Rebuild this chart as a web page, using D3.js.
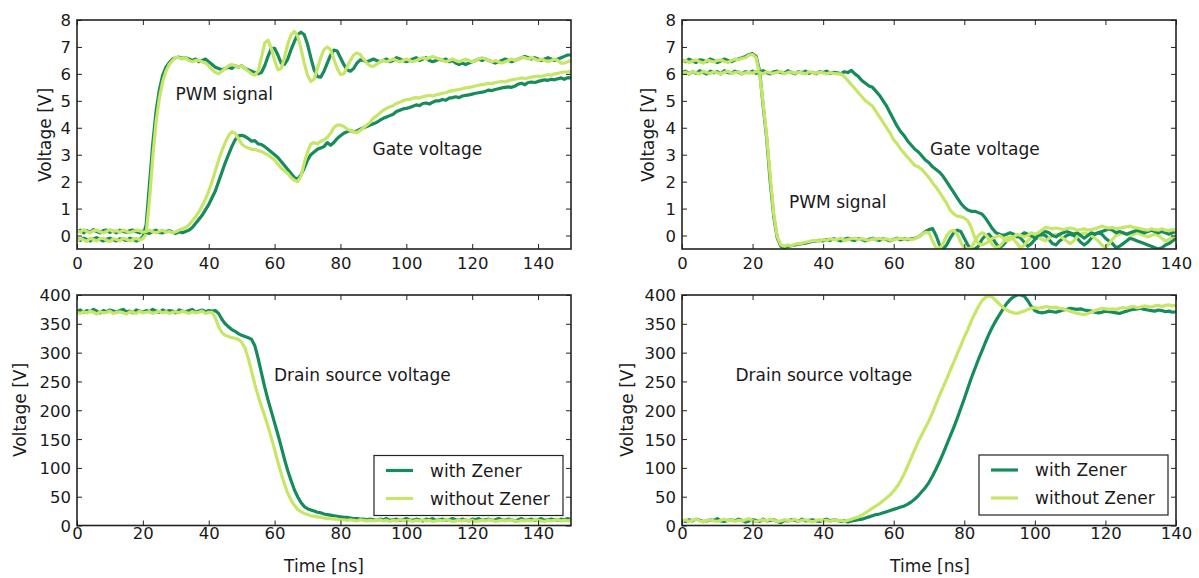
<!DOCTYPE html>
<html><head><meta charset="utf-8">
<script src="https://cdn.jsdelivr.net/npm/d3@7"></script>
<style>
body{margin:0;background:#fff;}
svg text{font-family:"DejaVu Sans",sans-serif;fill:#1a1a1a;}
</style>
</head><body>
<svg id="chart" width="1199" height="578"></svg>
<script>
// ---------------- DATA ----------------
const seriesNames = ["with Zener", "without Zener"];
const leftXTicks = [0, 20, 40, 60, 80, 100, 120, 140];
const rightXTicks = [0, 20, 40, 60, 80, 100, 120, 140];
const gateYTicks = [0, 1, 2, 3, 4, 5, 6, 7, 8];
const drainYTicks = [0, 50, 100, 150, 200, 250, 300, 350, 400];

// time grid (1 ns sampling)
const timeLeft = d3.range(0, 151);
const timeRight = d3.range(0, 141);

// Top-left: turn-on, PWM signal
const tlPwmWith = [-0.12,-0.18,-0.1,-0.15,-0.2,-0.12,-0.08,-0.15,-0.2,-0.14,-0.1,-0.16,-0.2,-0.12,-0.15,-0.18,-0.1,-0.14,-0.2,-0.15,-0.05,0.4,1.9,3.4,4.6,5.4,5.95,6.25,6.42,6.55,
6.6,6.62,6.58,6.6,6.55,6.5,6.55,6.45,6.5,6.55,
6.45,6.35,6.25,6.2,6.15,6.2,6.25,6.2,6.3,6.25,
6.3,6.2,6.15,6.1,6.05,6.0,6.05,6.3,6.65,6.95,
6.95,6.7,6.4,6.35,6.55,6.9,7.2,7.45,7.55,7.45,
7.1,6.6,6.15,5.9,5.88,6.1,6.4,6.7,6.88,6.85,
6.6,6.35,6.15,6.1,6.2,6.4,6.52,6.5,6.45,6.5,
6.55,6.5,6.45,6.5,6.55,6.45,6.5,6.6,6.55,6.5,
6.45,6.5,6.55,6.6,6.5,6.55,6.6,6.5,6.45,6.5,
6.55,6.5,6.55,6.45,6.5,6.4,6.35,6.4,6.35,6.4,
6.45,6.5,6.55,6.5,6.55,6.5,6.45,6.4,6.45,6.5,
6.55,6.5,6.45,6.5,6.55,6.6,6.65,6.6,6.55,6.6,
6.55,6.5,6.55,6.6,6.55,6.5,6.55,6.6,6.65,6.7,6.7];
const tlPwmWithout = [-0.2,-0.12,-0.16,-0.22,-0.1,-0.15,-0.2,-0.12,-0.1,-0.18,-0.22,-0.12,-0.15,-0.2,-0.1,-0.14,-0.2,-0.15,-0.1,-0.16,-0.12,0.05,1.3,2.9,4.2,5.1,5.7,6.1,6.35,6.5,
6.62,6.6,6.55,6.6,6.5,6.45,6.5,6.5,6.45,6.4,
6.3,6.15,6.05,6.0,6.1,6.2,6.3,6.35,6.3,6.25,
6.3,6.2,6.1,6.0,5.95,6.1,6.6,7.15,7.25,6.95,
6.5,6.15,6.2,6.6,7.1,7.45,7.58,7.4,6.95,6.4,
5.95,5.72,5.8,6.2,6.6,6.9,7.0,6.9,6.55,6.2,
5.98,6.0,6.25,6.5,6.7,6.78,6.72,6.55,6.4,6.3,
6.28,6.35,6.45,6.5,6.45,6.5,6.55,6.5,6.45,6.5,
6.55,6.5,6.45,6.5,6.55,6.6,6.55,6.6,6.65,6.6,
6.55,6.5,6.45,6.5,6.55,6.5,6.45,6.5,6.55,6.5,
6.45,6.5,6.55,6.6,6.55,6.5,6.45,6.5,6.45,6.4,
6.45,6.5,6.55,6.5,6.55,6.6,6.6,6.55,6.6,6.55,
6.5,6.55,6.5,6.45,6.5,6.55,6.5,6.4,6.4,6.45,6.5];
// Top-left: turn-on, gate voltage
const tlGateWith = [0.15,0.2,0.1,0.18,0.12,0.22,0.15,0.1,0.18,0.2,0.12,0.16,0.1,0.2,0.15,0.12,0.18,0.2,0.14,0.1,0.16,0.12,0.08,0.15,0.2,0.12,0.1,0.15,0.18,0.12,0.08,0.14,0.1,0.15,
0.2,0.3,0.45,0.6,0.75,0.95,
1.15,1.4,1.65,2.0,2.35,2.7,3.0,3.3,3.55,3.7,
3.72,3.68,3.6,3.5,3.52,3.4,3.38,3.3,3.2,3.1,
3.0,2.9,2.75,2.6,2.45,2.3,2.15,2.1,2.25,2.5,
2.8,3.0,3.1,3.2,3.25,3.3,3.45,3.35,3.45,3.6,
3.7,3.8,3.85,3.9,3.85,3.88,3.95,4.0,4.05,4.1,
4.15,4.2,4.28,4.35,4.4,4.45,4.5,4.6,4.65,4.7,
4.72,4.75,4.8,4.85,4.82,4.9,4.92,4.88,4.95,5.0,
5.0,5.05,5.02,5.1,5.12,5.15,5.12,5.18,5.2,5.22,
5.25,5.28,5.3,5.32,5.35,5.4,5.38,5.42,5.45,5.48,
5.5,5.52,5.5,5.55,5.62,5.65,5.6,5.68,5.7,5.68,
5.72,5.75,5.78,5.76,5.8,5.78,5.82,5.85,5.8,5.86,5.85];
const tlGateWithout = [0.2,0.12,0.22,0.15,0.1,0.18,0.2,0.14,0.1,0.16,0.22,0.15,0.18,0.12,0.2,0.16,0.1,0.15,0.2,0.18,0.12,0.15,0.2,0.14,0.1,0.16,0.2,0.12,0.15,0.1,0.14,0.2,
0.25,0.3,0.4,0.55,0.7,0.88,1.1,1.35,
1.65,2.0,2.4,2.8,3.15,3.45,3.7,3.85,3.8,3.6,
3.4,3.3,3.25,3.2,3.2,3.15,3.12,3.05,3.0,2.9,
2.8,2.65,2.5,2.4,2.3,2.15,2.05,2.0,2.2,2.7,
3.1,3.4,3.45,3.4,3.5,3.55,3.65,3.8,4.0,4.1,
4.1,4.05,3.95,3.9,3.85,3.82,3.9,4.0,4.1,4.2,
4.35,4.45,4.55,4.65,4.72,4.78,4.82,4.9,4.95,5.0,
5.05,5.05,5.1,5.12,5.1,5.15,5.18,5.2,5.18,5.22,
5.25,5.28,5.3,5.35,5.38,5.4,5.42,5.45,5.48,5.5,
5.52,5.55,5.58,5.6,5.62,5.65,5.63,5.68,5.7,5.72,
5.7,5.75,5.78,5.8,5.82,5.85,5.83,5.85,5.88,5.9,
5.92,5.9,5.94,5.97,5.95,6.0,6.02,6.05,6.07,6.08,6.1];

// Top-right: turn-off, PWM signal
const trPwmWith = [6.5,6.45,6.55,6.48,6.42,6.52,6.5,6.45,6.55,6.5,6.42,6.48,6.55,6.5,6.45,6.52,6.55,6.6,
6.65,6.72,6.75,6.65,6.1,4.8,3.6,2.0,0.7,-0.1,-0.4,-0.45,
-0.4,-0.38,-0.35,-0.32,-0.3,-0.28,-0.25,-0.22,-0.2,-0.18,
-0.2,-0.15,-0.18,-0.12,-0.16,-0.2,-0.14,-0.1,-0.16,-0.18,
-0.12,-0.15,-0.2,-0.14,-0.1,-0.15,-0.18,-0.12,-0.16,-0.2,
-0.14,-0.1,-0.16,-0.12,-0.15,-0.12,-0.1,-0.05,0.05,0.15,
0.22,0.26,0.0,-0.35,-0.5,-0.35,-0.1,0.1,0.2,0.15,
-0.1,-0.35,-0.5,-0.5,-0.4,-0.15,0.0,0.05,-0.1,-0.3,
-0.45,-0.35,-0.2,-0.1,-0.05,0.0,-0.1,-0.25,-0.4,-0.3,
-0.15,-0.05,0.05,0.0,-0.15,-0.3,-0.35,-0.2,-0.1,0.0,
0.05,0.0,-0.1,-0.25,-0.35,-0.25,-0.1,0.05,0.1,0.05,
-0.1,-0.2,-0.3,-0.45,-0.4,-0.3,-0.2,-0.1,-0.15,-0.2,
-0.25,-0.3,-0.35,-0.4,-0.45,-0.5,-0.45,-0.35,-0.3,-0.2,-0.1];
const trPwmWithout = [6.45,6.5,6.42,6.48,6.52,6.45,6.4,6.5,6.48,6.44,6.5,6.52,6.46,6.42,6.5,6.55,6.52,6.58,
6.6,6.7,6.72,6.6,6.0,4.9,3.7,2.2,0.8,-0.05,-0.35,-0.4,
-0.35,-0.38,-0.32,-0.3,-0.28,-0.25,-0.22,-0.2,-0.18,-0.2,
-0.15,-0.18,-0.12,-0.16,-0.14,-0.1,-0.18,-0.15,-0.12,-0.1,
-0.16,-0.12,-0.15,-0.18,-0.12,-0.14,-0.1,-0.15,-0.12,-0.18,
-0.15,-0.12,-0.1,-0.14,-0.12,-0.15,-0.12,-0.05,0.05,0.12,
0.1,-0.2,-0.45,-0.5,-0.3,0.0,0.15,0.2,0.05,-0.25,
-0.45,-0.5,-0.45,-0.2,0.0,0.1,0.05,-0.15,-0.35,-0.45,
-0.4,-0.25,-0.1,-0.05,-0.15,-0.3,-0.45,-0.35,-0.2,-0.05,
0.0,-0.05,-0.15,-0.2,-0.1,0.0,0.05,0.0,-0.1,-0.2,
-0.3,-0.2,-0.05,0.05,0.1,0.05,0.0,-0.1,-0.2,-0.35,
-0.45,-0.3,-0.15,0.0,0.05,0.1,0.05,0.0,0.05,0.1,
0.05,0.0,-0.05,0.0,0.05,0.0,-0.1,-0.2,-0.15,-0.05,0.0];
// Top-right: turn-off, gate voltage
const trGateWith = [6.05,6.1,6.0,6.08,6.02,6.12,6.05,6.0,6.1,6.04,6.08,6.0,6.12,6.05,6.02,6.1,6.06,6.0,6.08,6.04,6.1,6.02,6.06,6.12,6.04,6.0,6.08,6.1,6.05,6.02,6.12,6.06,6.0,6.08,6.04,6.1,6.02,6.06,6.0,6.08,6.05,6.1,6.02,6.06,6.04,6.0,6.08,6.05,
6.13,6.0,
5.9,5.75,5.65,5.55,5.5,5.35,5.2,5.0,4.8,4.55,
4.3,4.05,3.85,3.7,3.5,3.35,3.2,3.1,2.95,2.8,
2.7,2.55,2.45,2.35,2.2,2.0,1.8,1.6,1.4,1.2,
1.05,0.95,0.9,0.9,0.85,0.8,0.65,0.45,0.25,0.1,
0.05,0.0,0.05,0.1,0.05,-0.05,0.0,0.1,0.05,0.0,
-0.1,0.0,0.1,0.15,0.1,0.0,-0.05,0.05,0.1,0.15,
0.1,0.05,0.1,0.0,-0.1,0.0,0.1,0.05,0.1,0.15,
0.2,0.25,0.2,0.1,0.15,0.1,0.05,0.1,0.15,0.2,
0.15,0.1,0.15,0.2,0.15,0.1,0.15,0.1,0.05,0.1,0.15];
const trGateWithout = [6.02,6.06,6.0,6.08,6.04,6.0,6.1,6.05,6.02,6.08,6.04,6.0,6.06,6.1,6.02,6.05,6.08,6.0,6.04,6.06,6.02,6.1,6.05,6.0,6.08,6.04,6.02,6.06,6.1,6.0,6.05,6.08,6.02,6.06,6.04,6.0,6.08,6.05,6.02,6.06,6.04,6.0,6.05,6.02,6.0,
6.0,5.9,5.75,5.6,5.45,
5.3,5.15,5.0,4.9,4.8,4.6,4.4,4.2,4.0,3.8,
3.55,3.4,3.2,3.05,2.9,2.75,2.6,2.55,2.45,2.3,
2.15,1.95,1.8,1.6,1.4,1.2,0.95,0.8,0.72,0.7,
0.65,0.55,0.3,-0.1,-0.3,-0.35,-0.3,-0.2,-0.1,-0.05,
0.0,-0.1,-0.2,-0.15,-0.05,0.05,0.0,-0.05,0.0,0.1,
0.05,0.1,0.2,0.3,0.28,0.25,0.28,0.25,0.22,0.25,
0.28,0.25,0.2,0.22,0.25,0.2,0.22,0.25,0.3,0.35,
0.3,0.28,0.3,0.25,0.28,0.3,0.32,0.35,0.3,0.28,
0.25,0.22,0.2,0.25,0.22,0.2,0.25,0.2,0.18,0.22,0.2];

// Bottom-left: turn-on, drain source voltage
const blDrainWith = [372,374,370,373,371,375,372,369,373,371,374,372,370,373,375,371,372,369,374,372,370,373,371,375,372,370,374,371,373,372,369,374,372,371,373,375,370,372,374,371,373,372,
373,368,358,350,345,340,337,333,
330,328,326,323,312,290,265,240,218,198,
178,158,137,115,95,78,62,50,40,33,
29,27,25,23,22,20,19,18,17,16,
15,14,14,13,12,12,11,11,10,11,
10,9,11,10,12,9,10,11,9,10,
12,10,9,11,10,8,11,10,12,9,
10,11,9,10,12,10,9,11,10,8,
11,10,12,9,10,11,9,10,12,10,
9,11,10,8,10,12,9,10,11,9,
10,12,9,10,11,10,9,11,10,12,10];
const blDrainWithout = [370,368,371,369,372,370,367,371,369,370,372,368,370,371,369,367,371,370,368,372,369,370,371,368,370,372,369,371,368,370,371,369,372,370,368,371,369,370,372,368,370,
370,360,345,335,330,328,326,325,323,
318,308,290,268,245,225,207,190,172,152,
132,110,90,72,56,44,35,28,24,21,
19,17,16,15,14,13,12,12,11,11,
10,10,9,10,9,8,10,9,8,9,
8,9,10,8,9,7,9,8,10,9,
8,9,7,9,8,10,8,9,7,8,
9,8,10,9,7,8,9,8,10,8,
9,7,8,9,8,10,9,7,8,9,
8,9,10,8,7,9,8,9,8,10,
9,8,7,9,8,9,10,8,9,8,9];

// Bottom-right: turn-off, drain source voltage
const brDrainWith = [9,7,10,8,11,9,7,8,10,9,12,8,7,9,10,8,11,9,6,8,10,9,7,11,8,9,10,7,5,9,8,10,9,7,11,8,9,10,8,7,9,11,8,10,9,7,8,6,8,
9,
10,11,13,15,17,19,20,22,24,26,
28,30,32,34,37,41,46,52,59,66,
75,86,98,111,125,140,155,170,186,203,
220,238,256,272,288,303,318,332,345,356,
366,376,385,392,397,400,400,398,390,380,
373,370,369,370,372,371,370,372,374,375,
377,376,375,376,374,373,372,370,369,370,
372,371,370,369,368,370,372,374,375,376,
377,375,374,373,372,374,373,371,372,370,371];
const brDrainWithout = [8,10,7,9,11,8,6,9,10,8,7,9,11,8,10,7,9,8,10,12,8,7,9,10,8,11,9,7,8,10,9,8,11,7,9,10,8,6,9,10,8,9,7,10,8,9,7,
9,11,13,
15,18,22,26,30,34,38,43,48,53,
60,68,78,90,104,118,132,146,158,170,
182,196,211,226,240,254,269,283,298,312,
327,340,355,368,380,390,396,398,396,390,
384,378,374,371,369,368,370,372,375,377,
378,377,378,380,379,378,379,377,376,374,
372,370,368,367,366,368,370,373,375,377,
376,375,376,375,377,378,377,379,380,378,
379,381,380,379,381,382,380,382,383,381,382];

// ---------------- LAYOUT ----------------
const colorWith = "#168c5c";
const colorWithout = "#c7e566";
const FONT = 17, TICKFONT = 16.5;

const panels = [
  {id:"tl", x0:77, x1:571, y0:20, y1:249, xdom:[0,150], ydom:[-0.5,8], xt:leftXTicks, yt:gateYTicks, time:timeLeft,
   lines:[[tlPwmWith,colorWith],[tlPwmWithout,colorWithout],[tlGateWith,colorWith],[tlGateWithout,colorWithout]],
   notes:[["PWM signal",175.5,100],["Gate voltage",372.5,155]], ylab:[45,135], xlabBase:269, legend:false, xlabel:false},
  {id:"tr", x0:682, x1:1176, y0:20, y1:249, xdom:[0,140], ydom:[-0.5,8], xt:rightXTicks, yt:gateYTicks, time:timeRight,
   lines:[[trPwmWith,colorWith],[trPwmWithout,colorWithout],[trGateWith,colorWith],[trGateWithout,colorWithout]],
   notes:[["PWM signal",789,208],["Gate voltage",930,154.5]], ylab:[648,135], xlabBase:269, legend:false, xlabel:false},
  {id:"bl", x0:77, x1:571, y0:295, y1:525.5, xdom:[0,150], ydom:[0,400], xt:leftXTicks, yt:drainYTicks, time:timeLeft,
   lines:[[blDrainWith,colorWith],[blDrainWithout,colorWithout]],
   notes:[["Drain source voltage",274,380.5]], ylab:[20,410], xlabBase:539, legend:[374,455.5], xlabel:[324,572]},
  {id:"br", x0:682, x1:1176, y0:295, y1:525.5, xdom:[0,140], ydom:[0,400], xt:rightXTicks, yt:drainYTicks, time:timeRight,
   lines:[[brDrainWith,colorWith],[brDrainWithout,colorWithout]],
   notes:[["Drain source voltage",735.5,380.5]], ylab:[627,410], xlabBase:539, legend:[979,455], xlabel:[930,572]}
];

const svg = d3.select("#chart");
const defs = svg.append("defs");

panels.forEach(p => {
  const x = d3.scaleLinear().domain(p.xdom).range([p.x0, p.x1]);
  const y = d3.scaleLinear().domain(p.ydom).range([p.y1, p.y0]);
  const g = svg.append("g");

  defs.append("clipPath").attr("id", "clip-" + p.id)
    .append("rect").attr("x", p.x0).attr("y", p.y0).attr("width", p.x1 - p.x0).attr("height", p.y1 - p.y0);

  const line = d3.line().x((d, i) => x(p.time[i])).y(d => y(d));
  const lg = g.append("g").attr("clip-path", "url(#clip-" + p.id + ")");
  p.lines.forEach(([vals, col]) => {
    lg.append("path").datum(vals).attr("d", line)
      .attr("fill", "none").attr("stroke", col).attr("stroke-width", 3.2)
      .attr("stroke-linejoin", "round").attr("stroke-linecap", "butt");
  });

  // axes with inward ticks
  const tickLen = 5;
  const axB = d3.axisBottom(x).tickValues(p.xt).tickSizeInner(-tickLen).tickSizeOuter(0).tickPadding(0).tickFormat(d3.format("d"));
  const axT = d3.axisTop(x).tickValues(p.xt).tickSizeInner(-tickLen).tickSizeOuter(0).tickFormat("");
  const axL = d3.axisLeft(y).tickValues(p.yt).tickSizeInner(-tickLen).tickSizeOuter(0).tickPadding(0).tickFormat(d3.format("d"));
  const axR = d3.axisRight(y).tickValues(p.yt).tickSizeInner(-tickLen).tickSizeOuter(0).tickFormat("");

  const gb = g.append("g").attr("transform", `translate(0,${p.y1})`).call(axB);
  const gt = g.append("g").attr("transform", `translate(0,${p.y0})`).call(axT);
  const gl = g.append("g").attr("transform", `translate(${p.x0},0)`).call(axL);
  const gr = g.append("g").attr("transform", `translate(${p.x1},0)`).call(axR);
  [gb, gt, gl, gr].forEach(a => {
    a.select(".domain").remove();
    a.selectAll(".tick line").attr("stroke", "#222").attr("stroke-width", 1);
    a.selectAll("text").style("font-family", '"DejaVu Sans", sans-serif').style("font-size", TICKFONT + "px").attr("fill", "#1a1a1a");
  });
  gb.selectAll(".tick text").attr("y", p.xlabBase - p.y1).attr("dy", null);
  gl.selectAll(".tick text").attr("x", -6).attr("dy", "0.36em");

  // frame
  g.append("rect").attr("x", p.x0).attr("y", p.y0).attr("width", p.x1 - p.x0).attr("height", p.y1 - p.y0)
    .attr("fill", "none").attr("stroke", "#222").attr("stroke-width", 1.6);

  // y label
  g.append("text").attr("transform", `translate(${p.ylab[0]},${p.ylab[1]}) rotate(-90)`)
    .attr("text-anchor", "middle").attr("dy", "0.36em").style("font-size", FONT + "px").text("Voltage [V]");
  if (p.xlabel) {
    g.append("text").attr("x", p.xlabel[0]).attr("y", p.xlabel[1]).attr("text-anchor", "middle")
      .style("font-size", FONT + "px").text("Time [ns]");
  }
  p.notes.forEach(([txt, nx, ny]) => {
    g.append("text").attr("x", nx).attr("y", ny).style("font-size", FONT + "px").text(txt);
  });

  if (p.legend) {
    const [lx, ly] = p.legend;
    const leg = g.append("g").attr("transform", `translate(${lx},${ly})`);
    leg.append("rect").attr("width", 189).attr("height", 60).attr("fill", "#fff").attr("stroke", "#222").attr("stroke-width", 1.2);
    [[seriesNames[0], colorWith], [seriesNames[1], colorWithout]].forEach(([nm, col], i) => {
      const yy = 15 + i * 28;
      leg.append("line").attr("x1", 12).attr("x2", 39).attr("y1", yy).attr("y2", yy)
        .attr("stroke", col).attr("stroke-width", 3.2);
      leg.append("text").attr("x", 56).attr("y", yy).attr("dy", "0.36em").style("font-size", FONT + "px").text(nm);
    });
  }
});
</script>
</body></html>
